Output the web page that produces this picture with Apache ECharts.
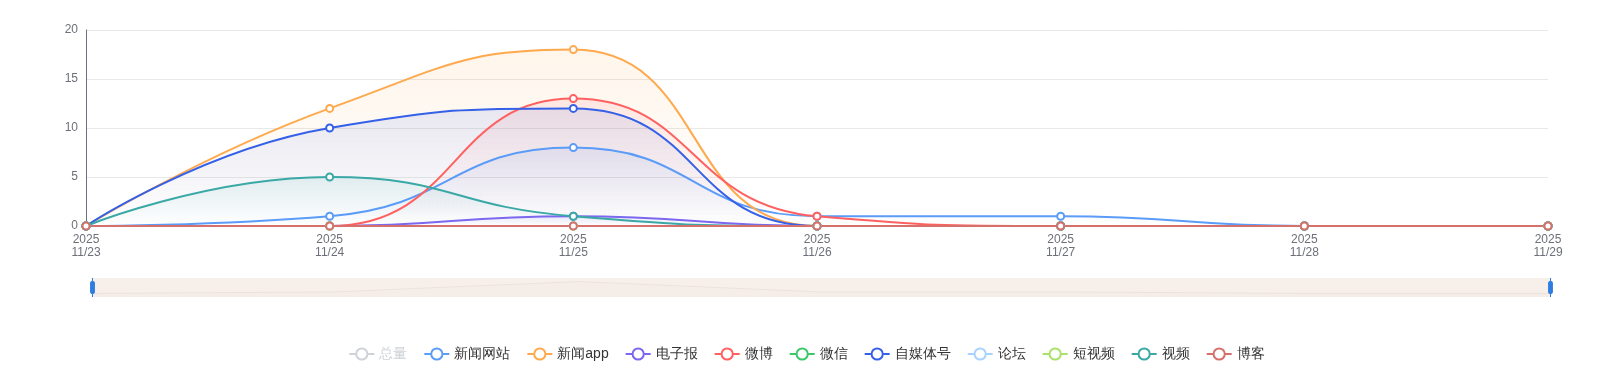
<!DOCTYPE html>
<html>
<head>
<meta charset="utf-8">
<script src="https://cdn.jsdelivr.net/npm/echarts@6/dist/echarts.min.js"></script>
<style>html,body{margin:0;padding:0;background:#fff;}#c{width:1613px;height:382px;}</style>
</head>
<body>
<div id="c"></div>
<script>
const categories = ['2025\n11/23','2025\n11/24','2025\n11/25','2025\n11/26','2025\n11/27','2025\n11/28','2025\n11/29'];
const seriesNames = ['总量','新闻网站','新闻app','电子报','微博','微信','自媒体号','论坛','短视频','视频','博客'];
const total     = [0, 28, 53, 2, 1, 0, 0];
const newsSite  = [0, 1, 8, 1, 1, 0, 0];
const newsApp   = [0, 12, 18, 0, 0, 0, 0];
const ePaper    = [0, 0, 1, 0, 0, 0, 0];
const weibo     = [0, 0, 13, 1, 0, 0, 0];
const weixin    = [0, 0, 0, 0, 0, 0, 0];
const selfMedia = [0, 10, 12, 0, 0, 0, 0];
const forum     = [0, 0, 0, 0, 0, 0, 0];
const shortVideo= [0, 0, 0, 0, 0, 0, 0];
const video     = [0, 5, 1, 0, 0, 0, 0];
const blog      = [0, 0, 0, 0, 0, 0, 0];
const yTicks = { min: 0, max: 20, interval: 5 };

const seriesData = [total, newsSite, newsApp, ePaper, weibo, weixin, selfMedia, forum, shortVideo, video, blog];
const colors = ['#5470c6','#5B9CF8','#FFA94D','#7B68EE','#FF6060','#3DC76B','#3561E8','#A8D3FF','#A9E16A','#3AA9A6','#D5706A'];

function hexA(hex, a){
  const n = parseInt(hex.slice(1),16);
  return 'rgba('+((n>>16)&255)+','+((n>>8)&255)+','+(n&255)+','+a+')';
}

const chart = echarts.init(document.getElementById('c'));
chart.setOption({
  color: colors,
  animation: false,
  grid: { left: 86, right: 65, top: 30, bottom: 156, containLabel: false },
  legend: {
    bottom: 16, left: 'center', itemGap: 16, itemWidth: 25, itemHeight: 14,
    textStyle: { fontSize: 14, color: '#333' },
    selected: { '总量': false },
    data: seriesNames
  },
  xAxis: {
    type: 'category', boundaryGap: false, data: categories,
    axisLine: { lineStyle: { color: '#6E7079' } },
    axisTick: { show: false },
    axisLabel: { color: '#6E7079', fontSize: 12, lineHeight: 13, margin: 7 }
  },
  yAxis: {
    type: 'value', min: yTicks.min, max: yTicks.max, interval: yTicks.interval,
    axisLine: { show: true, lineStyle: { color: '#6E7079' } },
    axisTick: { show: false },
    axisLabel: { color: '#6E7079', fontSize: 12 },
    splitLine: { lineStyle: { color: '#E8E8E8' } }
  },
  dataZoom: [{
    type: 'slider', left: 89, right: 64, top: 278, height: 19, start: 0, end: 100,
    backgroundColor: 'rgba(0,0,0,0)',
    borderColor: 'transparent',
    fillerColor: 'rgba(240,228,220,0.6)',
    showDetail: false,
    handleSize: '100%',
    handleStyle: { color: '#2F7DE1', borderColor: '#2F7DE1' },
    moveHandleSize: 0,
    dataBackground: {
      lineStyle: { color: '#e6e0dc', width: 1 },
      areaStyle: { color: 'rgba(240,232,226,0.5)' }
    },
    selectedDataBackground: {
      lineStyle: { color: '#e6e0dc', width: 1 },
      areaStyle: { color: 'rgba(240,232,226,0.5)' }
    },
    brushSelect: false
  }],
  series: seriesNames.map((name, i) => ({
    name: name,
    type: 'line',
    smooth: true,
    symbol: 'emptyCircle',
    symbolSize: 7,
    lineStyle: { width: 2 },
    data: seriesData[i],
    areaStyle: {
      color: new echarts.graphic.LinearGradient(0, 0, 0, 1, [
        { offset: 0, color: hexA(colors[i], 0.16) },
        { offset: 1, color: hexA(colors[i], 0.0) }
      ])
    }
  }))
});
</script>
</body>
</html>
